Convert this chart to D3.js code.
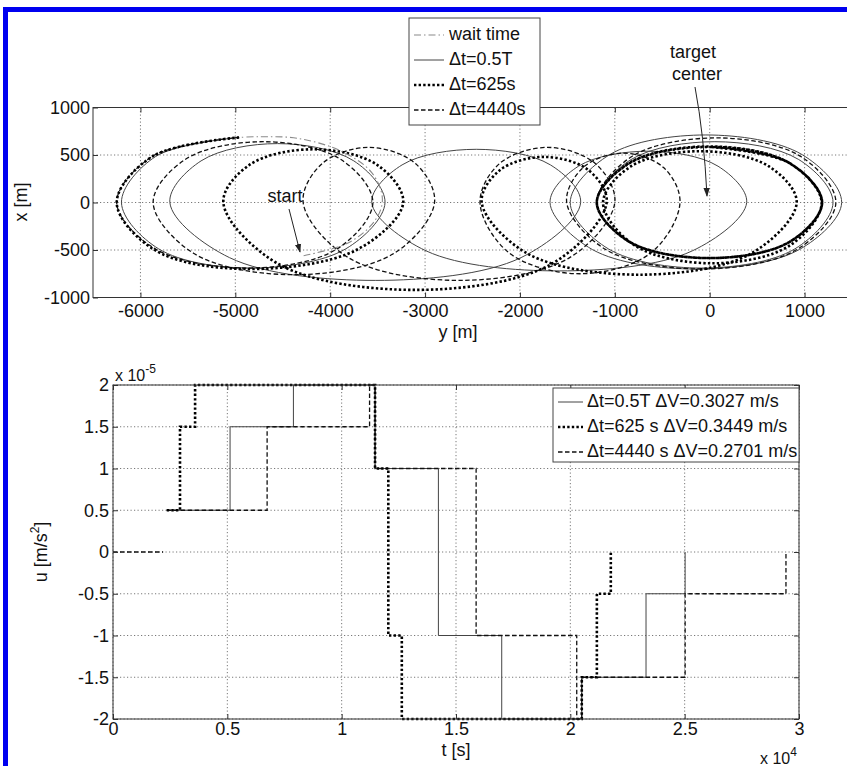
<!DOCTYPE html>
<html><head><meta charset="utf-8">
<script src="https://cdn.jsdelivr.net/npm/d3@7"></script>
<style>
html,body{margin:0;padding:0;background:#fff;}
svg{display:block;font-family:"Liberation Sans",Arial,Helvetica,sans-serif;}
</style></head>
<body>
<svg id="chart" width="847" height="766"></svg>
<script>
// ---------------- DATA ----------------
// Top panel: trajectories, points are [y (m), x (m)]
const waitTime = [[-4280,-560],[-3801,-420],[-3522,-182],[-3450,40],[-3562,315],[-3879,538],[-4339,675],[-4755,692],[-4960,685]];
const traj05T = [[-4960,685],[-5840,484],[-6200,0],[-5808,-488],[-4850,-690],[-3836,-488],[-3422,0],[-3751,438],[-4556,620],
  [-5361,438],[-5690,0],[-5062,-580],[-3525,-820],[-1988,-580],[-1360,0],[-1679,396],[-2460,560],[-3242,396],[-3562,0],
  [-2989,-509],[-1586,-720],[-183,-509],[390,0],[88,382],[-650,540],[-1383,382],[-1683,0],[-1237,-495],[-146,-700],
  [945,-495],[1391,0],[976,503],[-40,711],[-1055,503],[-1470,0],[-1068,-488],[-85,-690],[898,-488],[1300,0],[939,452],
  [55,640],[-829,452],[-1190,0],[-845,-414],[0,-585],[843,-414],[1185,0],[843,414],[0,585]];
const traj625 = [[-4960,685],[-5876,484],[-6250,0],[-5859,-495],[-4900,-700],[-3714,-495],[-3230,0],[-3505,396],[-4178,560],
  [-4851,396],[-5126,0],[-4540,-650],[-3106,-920],[-1672,-650],[-1086,0],[-1277,340],[-1745,480],[-2212,340],[-2403,0],
  [-1922,-537],[-743,-760],[436,-537],[917,0],[622,382],[-100,540],[-827,382],[-1124,0],[-790,-452],[28,-640],[846,-452],
  [1180,0],[836,417],[-5,590],[-846,417],[-1190,0],[-845,-414],[0,-585],[843,-414],[1185,0],[843,414],[0,585],
  [-845,414],[-1190,0],[-845,-414],[0,-585],[843,-414],[1185,0],[843,414],[0,585]];
const traj4440 = [[-4960,685],[-5876,484],[-6250,0],[-5844,-488],[-4850,-690],[-3927,-488],[-3550,0],[-3886,452],[-4708,640],
  [-5530,452],[-5866,0],[-5436,-537],[-4383,-760],[-3330,-537],[-2900,0],[-3101,410],[-3592,580],[-4084,410],[-4285,0],
  [-3809,-580],[-2643,-820],[-1476,-580],[-1000,0],[-1206,410],[-1710,580],[-2215,410],[-2421,0],[-2115,-530],[-1367,-750],
  [-619,-530],[-313,0],[-486,368],[-910,520],[-1334,368],[-1507,0],[-1096,-495],[-89,-700],[918,-495],[1330,0],[965,481],
  [70,680],[-825,481],[-1190,0],[-845,-414],[0,-585],[843,-414],[1185,0],[843,414],[0,585]];
const topSeries = ["wait time","\u0394t=0.5T","\u0394t=625s","\u0394t=4440s"];
const topYTicks = [-6000,-5000,-4000,-3000,-2000,-1000,0,1000];
const topXTicks = [-1000,-500,0,500,1000];

// Bottom panel: control acceleration steps (t in s, u in 1e-5 m/s^2)
const tWait = [0,2190];
const uWait = [0,0];
const t05T  = [2350,5120,7890,11460,14230,17000,20500,23310,25020];
const u05T  = [0.5,1.5,2,1,-1,-2,-1.5,-0.5,0];
const t625  = [2350,2930,3590,11460,12040,12630,20500,21160,21770];
const u625  = [0.5,1.5,2,1,-1,-2,-1.5,-0.5,0];
const t4440 = [2350,6740,11220,11460,15880,20280,20500,25020,29430];
const u4440 = [0.5,1.5,2,1,-1,-2,-1.5,-0.5,0];
const botSeries = ["\u0394t=0.5T \u0394V=0.3027 m/s","\u0394t=625 s \u0394V=0.3449 m/s","\u0394t=4440 s \u0394V=0.2701 m/s"];
const tTicks = [0,5000,10000,15000,20000,25000,30000];
const tTickLabels = ["0","0.5","1","1.5","2","2.5","3"];
const uTicks = [-2,-1.5,-1,-0.5,0,0.5,1,1.5,2];
const uTickLabels = ["-2","-1.5","-1","-0.5","0","0.5","1","1.5","2"];

// ---------------- STYLES ----------------
const styles = {
  wait: {stroke:"#8a8a8a", width:1.1, dash:"7,3,1.5,3"},
  s05:  {stroke:"#444", width:1.0, dash:null},
  s625: {stroke:"#000", width:2.6, dash:"2.4,2.2"},
  s4440:{stroke:"#111", width:1.3, dash:"4.5,2.5"}
};
const FS = 18;
const svg = d3.select("#chart");
svg.append("rect").attr("width",847).attr("height",766).attr("fill","#fff");

// blue frame (top & left)
svg.append("rect").attr("x",3).attr("y",7).attr("width",844).attr("height",5).attr("fill","#0000f0");
svg.append("rect").attr("x",3).attr("y",7).attr("width",5).attr("height",759).attr("fill","#0000f0");

function styleLine(sel, st){
  sel.attr("fill","none").attr("stroke",st.stroke).attr("stroke-width",st.width);
  if(st.dash) sel.attr("stroke-dasharray",st.dash);
  return sel;
}
const plain = d => String(d);

// ---------------- TOP PANEL ----------------
const tp = {l:93, r:852, t:107.5, b:297.5};
const yS = d3.scaleLinear().domain([-6500,1500]).range([tp.l,tp.r]);
const xS = d3.scaleLinear().domain([-1000,1000]).range([tp.b,tp.t]);

svg.append("clipPath").attr("id","clipTop").append("rect")
  .attr("x",tp.l).attr("y",tp.t).attr("width",tp.r-tp.l).attr("height",tp.b-tp.t);

const gTop = svg.append("g");
gTop.selectAll("line.gx").data(topYTicks).join("line")
  .attr("x1",d=>yS(d)).attr("x2",d=>yS(d)).attr("y1",tp.t).attr("y2",tp.b)
  .attr("stroke","#555").attr("stroke-width",0.8).attr("stroke-dasharray","1.2,2.3");
gTop.selectAll("line.gy").data(topXTicks).join("line")
  .attr("x1",tp.l).attr("x2",tp.r).attr("y1",d=>xS(d)).attr("y2",d=>xS(d))
  .attr("stroke","#555").attr("stroke-width",0.8).attr("stroke-dasharray","1.2,2.3");

const lineTop = d3.line().x(d=>yS(d[0])).y(d=>xS(d[1])).curve(d3.curveCatmullRom.alpha(0.5));
const gCurves = gTop.append("g").attr("clip-path","url(#clipTop)");
styleLine(gCurves.append("path").attr("d",lineTop(traj05T)), styles.s05);
styleLine(gCurves.append("path").attr("d",lineTop(traj4440)), styles.s4440);
styleLine(gCurves.append("path").attr("d",lineTop(traj625)), styles.s625);
styleLine(gCurves.append("path").attr("d",lineTop(waitTime)), styles.wait);

function styleAxis(g){
  g.select(".domain").remove();
  g.selectAll(".tick line").attr("stroke","#333");
  g.selectAll(".tick text").attr("font-size",FS).attr("fill","#111").attr("font-family","Liberation Sans, Arial, sans-serif");
}
svg.append("g").attr("transform",`translate(0,${tp.b})`)
  .call(d3.axisBottom(yS).tickValues(topYTicks).tickSize(-5).tickSizeOuter(0).tickPadding(7).tickFormat(plain)).call(styleAxis);
svg.append("g").attr("transform",`translate(${tp.l},0)`)
  .call(d3.axisLeft(xS).tickValues(topXTicks).tickSize(-5).tickSizeOuter(0).tickPadding(3).tickFormat(plain)).call(styleAxis);
svg.append("g").attr("transform",`translate(0,${tp.t})`)
  .call(d3.axisTop(yS).tickValues(topYTicks).tickSize(-5).tickSizeOuter(0).tickFormat("")).call(styleAxis);
svg.append("rect").attr("x",tp.l).attr("y",tp.t).attr("width",tp.r-tp.l).attr("height",tp.b-tp.t)
  .attr("fill","none").attr("stroke","#333").attr("stroke-width",1);

svg.append("text").attr("x",458).attr("y",333).attr("text-anchor","middle").attr("dominant-baseline","middle")
  .attr("font-size",FS).attr("fill","#111").text("y [m]");
svg.append("text").attr("transform","translate(22,202) rotate(-90)").attr("text-anchor","middle").attr("dominant-baseline","middle")
  .attr("font-size",FS).attr("fill","#111").text("x [m]");

// arrows / annotations
const defs = svg.append("defs");
defs.append("marker").attr("id","arr").attr("viewBox","0 0 10 10").attr("refX",9).attr("refY",5)
  .attr("markerWidth",9).attr("markerHeight",9).attr("orient","auto")
  .append("path").attr("d","M0,1.5 L10,5 L0,8.5 Z").attr("fill","#222");
svg.append("text").attr("x",285).attr("y",197).attr("text-anchor","middle").attr("dominant-baseline","middle")
  .attr("font-size",FS).attr("fill","#111").text("start");
svg.append("path").attr("d","M289,209 L300,252").attr("stroke","#222").attr("stroke-width",1).attr("fill","none").attr("marker-end","url(#arr)");
svg.append("text").attr("x",693).attr("y",53).attr("text-anchor","middle").attr("dominant-baseline","middle")
  .attr("font-size",FS).attr("fill","#111").text("target");
svg.append("text").attr("x",697).attr("y",75).attr("text-anchor","middle").attr("dominant-baseline","middle")
  .attr("font-size",FS).attr("fill","#111").text("center");
svg.append("path").attr("d","M695,87 Q704,135 707,196").attr("stroke","#222").attr("stroke-width",1).attr("fill","none").attr("marker-end","url(#arr)");

// top legend
const lgT = svg.append("g");
lgT.append("rect").attr("x",409).attr("y",18).attr("width",131).attr("height",107).attr("fill","#fff").attr("stroke","#444").attr("stroke-width",1);
const topStyles = [styles.wait, styles.s05, styles.s625, styles.s4440];
topSeries.forEach((name,i)=>{
  const y = 35 + i*25;
  styleLine(lgT.append("line").attr("x1",414).attr("x2",444).attr("y1",y).attr("y2",y), topStyles[i]);
  lgT.append("text").attr("x",449).attr("y",y).attr("dominant-baseline","middle").attr("font-size",FS).attr("fill","#111").text(name);
});

// ---------------- BOTTOM PANEL ----------------
const bp = {l:113, r:799, t:385, b:719};
const tS = d3.scaleLinear().domain([0,30000]).range([bp.l,bp.r]);
const uS = d3.scaleLinear().domain([-2,2]).range([bp.b,bp.t]);
const gBot = svg.append("g");
gBot.selectAll("line.gx").data(tTicks).join("line")
  .attr("x1",d=>tS(d)).attr("x2",d=>tS(d)).attr("y1",bp.t).attr("y2",bp.b)
  .attr("stroke","#555").attr("stroke-width",0.8).attr("stroke-dasharray","1.2,2.3");
gBot.selectAll("line.gy").data(uTicks).join("line")
  .attr("x1",bp.l).attr("x2",bp.r).attr("y1",d=>uS(d)).attr("y2",d=>uS(d))
  .attr("stroke","#555").attr("stroke-width",0.8).attr("stroke-dasharray","1.2,2.3");

const stepLine = d3.line().x(d=>tS(d[0])).y(d=>uS(d[1])).curve(d3.curveStepAfter);
const zip = (a,b)=>a.map((v,i)=>[v,b[i]]);
styleLine(gBot.append("path").attr("d",stepLine(zip(tWait,uWait))), styles.s4440);
styleLine(gBot.append("path").attr("d",stepLine(zip(t05T,u05T))), styles.s05);
styleLine(gBot.append("path").attr("d",stepLine(zip(t4440,u4440))), styles.s4440);
styleLine(gBot.append("path").attr("d",stepLine(zip(t625,u625))), styles.s625);

const fmtT = d=>tTickLabels[tTicks.indexOf(d)];
const fmtU = d=>uTickLabels[uTicks.indexOf(d)];
svg.append("g").attr("transform",`translate(0,${bp.b})`)
  .call(d3.axisBottom(tS).tickValues(tTicks).tickSize(-5).tickSizeOuter(0).tickPadding(3.5).tickFormat(fmtT)).call(styleAxis);
svg.append("g").attr("transform",`translate(0,${bp.t})`)
  .call(d3.axisTop(tS).tickValues(tTicks).tickSize(-5).tickSizeOuter(0).tickFormat("")).call(styleAxis);
svg.append("g").attr("transform",`translate(${bp.l},0)`)
  .call(d3.axisLeft(uS).tickValues(uTicks).tickSize(-5).tickSizeOuter(0).tickPadding(4).tickFormat(fmtU)).call(styleAxis);
svg.append("g").attr("transform",`translate(${bp.r},0)`)
  .call(d3.axisRight(uS).tickValues(uTicks).tickSize(-5).tickSizeOuter(0).tickFormat("")).call(styleAxis);
svg.append("rect").attr("x",bp.l).attr("y",bp.t).attr("width",bp.r-bp.l).attr("height",bp.b-bp.t)
  .attr("fill","none").attr("stroke","#333").attr("stroke-width",1);

// exponent labels
const e5 = svg.append("text").attr("x",115).attr("y",381).attr("font-size",16).attr("fill","#111");
e5.append("tspan").text("x 10");
e5.append("tspan").attr("dy",-8).attr("font-size",12).text("-5");
const e4 = svg.append("text").attr("x",760).attr("y",764).attr("font-size",16).attr("fill","#111");
e4.append("tspan").text("x 10");
e4.append("tspan").attr("dy",-8).attr("font-size",12).text("4");

svg.append("text").attr("x",456).attr("y",751).attr("text-anchor","middle").attr("dominant-baseline","middle")
  .attr("font-size",FS).attr("fill","#111").text("t [s]");
const ul = svg.append("text").attr("transform","translate(42,552) rotate(-90)").attr("text-anchor","middle").attr("dominant-baseline","middle")
  .attr("font-size",FS).attr("fill","#111");
ul.append("tspan").text("u [m/s");
ul.append("tspan").attr("dy",-6).attr("font-size",12).text("2");
ul.append("tspan").attr("dy",6).text("]");

// bottom legend
const lgB = svg.append("g");
lgB.append("rect").attr("x",553).attr("y",388).attr("width",246).attr("height",74).attr("fill","#fff").attr("stroke","#444").attr("stroke-width",1);
const botStyles = [styles.s05, styles.s625, styles.s4440];
botSeries.forEach((name,i)=>{
  const y = 402 + i*25;
  styleLine(lgB.append("line").attr("x1",558).attr("x2",583).attr("y1",y).attr("y2",y), botStyles[i]);
  lgB.append("text").attr("x",587).attr("y",y).attr("dominant-baseline","middle").attr("font-size",FS).attr("fill","#111").text(name);
});
</script>
</body></html>
